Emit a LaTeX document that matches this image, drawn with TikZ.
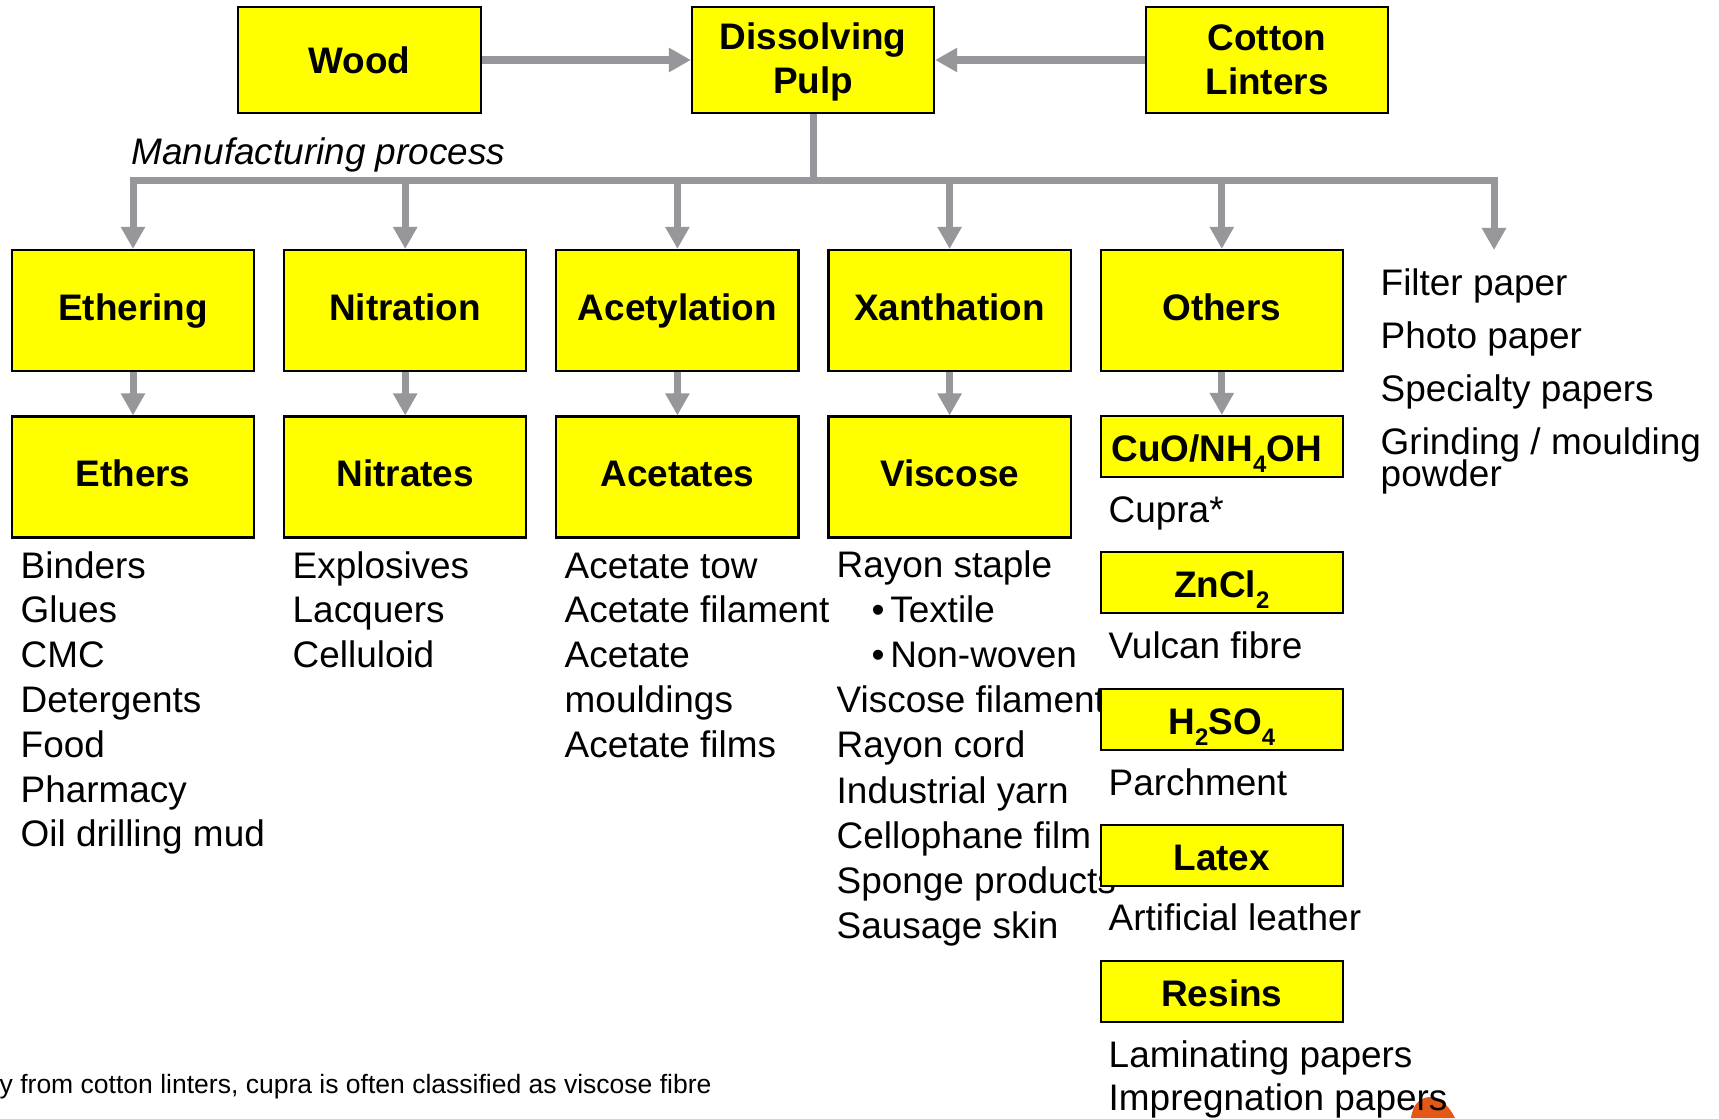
\documentclass[tikz,border=0pt]{standalone}
\usepackage{fontspec}
\setmainfont{Liberation Sans}
\usetikzlibrary{arrows.meta}
\definecolor{boxyellow}{RGB}{255,255,0}
\definecolor{arrgrey}{RGB}{150,150,155}
\definecolor{logoorange}{RGB}{226,88,22}
\newcommand\sbs[1]{\raisebox{-0.3em}{\fontsize{6.8}{6.8}\selectfont #1}}
\begin{document}
\begin{tikzpicture}[x=0.01cm,y=-0.01cm,
  box/.style={draw=black, line width=0.6pt, fill=boxyellow, minimum width=2.42cm, minimum height=1.21cm, inner sep=0pt, align=center, font=\bfseries\fontsize{10.5}{12.5}\selectfont},
  onel/.style={text height=0.8em, text depth=0.26em},
  sbox/.style={box, minimum height=0.61cm, text height=0.9em, text depth=0.06em},
  topbox/.style={box, minimum height=1.06cm},
  lst/.style={anchor=base west, inner sep=0pt, font=\fontsize{10.5}{12.6}\selectfont},
  arr/.style={draw=arrgrey, line width=0.07cm, -{Triangle[length=0.22cm,width=0.23cm]}},
  busline/.style={draw=arrgrey, line width=0.07cm}]
\fill[white] (0,0) rectangle (1719,1118);
\useasboundingbox (0,0) rectangle (1719,1118);

% fragment of a logo at the lower edge
\begin{scope}
\clip (0,0) rectangle (1719,1118);
\fill[logoorange] (1411,1118) .. controls (1413,1103) and (1421,1097) .. (1431,1097) .. controls (1442,1098) and (1450,1108) .. (1455,1118) -- cycle;
\end{scope}

% texts
\node[lst, font=\itshape\fontsize{10.5}{12.6}\selectfont] (manu) at (131,164) {Manufacturing process};

\foreach \t [count=\i from 0] in {Binders,Glues,CMC,Detergents,Food,Pharmacy,Oil drilling mud}
  \node[lst] (ethL\i) at (20,{578+44.8*\i}) {\t};
\foreach \t [count=\i from 0] in {Explosives,Lacquers,Celluloid}
  \node[lst] (nitL\i) at (292,{578+44.8*\i}) {\t};
\foreach \t [count=\i from 0] in {Acetate tow,Acetate filament,Acetate,mouldings,Acetate films}
  \node[lst] (aceL\i) at (564,{578+44.8*\i}) {\t};

\node[lst] (visL0) at (836,577) {Rayon staple};
\node[lst] (visL1) at (871,622.2) {•\hspace{1.6pt}Textile};
\node[lst] (visL2) at (871,667.4) {•\hspace{1.6pt}Non-woven};
\node[lst] (visL3) at (836,712.6) {Viscose filament};
\node[lst] (visL4) at (836,757.8) {Rayon cord};
\node[lst] (visL5) at (836,803) {Industrial yarn};
\node[lst] (visL6) at (836,848.2) {Cellophane film};
\node[lst] (visL7) at (836,893.4) {Sponge products};
\node[lst] (visL8) at (836,938.6) {Sausage skin};

\node[lst] (othL0) at (1108,522) {Cupra*};
\node[lst] (othL1) at (1108,658) {Vulcan fibre};
\node[lst] (othL2) at (1108,795) {Parchment};
\node[lst] (othL3) at (1108,930) {Artificial leather};
\node[lst] (othL4) at (1108,1067) {Laminating papers};
\node[lst] (othL5) at (1108,1110) {Impregnation papers};

\node[lst] (papL0) at (1380,295) {Filter paper};
\node[lst] (papL1) at (1380,348) {Photo paper};
\node[lst] (papL2) at (1380,401) {Specialty papers};
\node[lst] (papL3) at (1380,454) {Grinding / moulding};
\node[lst] (papL4) at (1380,486) {powder};

\node[anchor=base west, inner sep=0pt, font=\fontsize{7.54}{9}\selectfont] (foot) at (-1,1093) {y from cotton linters, cupra is often classified as viscose fibre};

% boxes
\node[topbox, text height=0.9em, text depth=0.14em] (wood) at (359.5,60) {Wood};
\node[topbox] (dp) at (813,60) {\rule{0pt}{0.85em}Dissolving\\Pulp};
\node[topbox] (cl) at (1267,60) {Cotton\\Linters};

\node[box, onel] (eth) at (133,310.5) {Ethering};
\node[box, onel] (nit) at (405.2,310.5) {Nitration};
\node[box, onel] (ace) at (677.4,310.5) {Acetylation};
\node[box, onel] (xan) at (949.6,310.5) {Xanthation};
\node[box, onel] (oth) at (1221.8,310.5) {Others};

\node[box, onel] (ethers) at (133,477) {Ethers};
\node[box, onel] (nitrates) at (405.2,477) {Nitrates};
\node[box, onel] (acetates) at (677.4,477) {Acetates};
\node[box, onel] (viscose) at (949.6,477) {Viscose};

\node[sbox] (cuo) at (1221.8,446.5) {CuO/NH\sbs{4}OH\hspace*{0.1cm}};
\node[sbox] (zncl) at (1221.8,582.5) {ZnCl\sbs{2}};
\node[sbox] (hso) at (1221.8,719.5) {H\sbs{2}SO\sbs{4}};
\node[sbox] (latex) at (1221.8,855.5) {Latex};
\node[sbox] (resins) at (1221.8,991.5) {Resins};

% connectors
\draw[arr] (wood) -- (dp);
\draw[arr] (cl) -- (dp);
\coordinate (bus) at (813,180.5);
\coordinate (busL) at (133,180.5);
\coordinate (busR) at (1494,180.5);
\coordinate (papArrow) at (1494,250);
\draw[busline] (dp.south) -- (bus);
\draw[busline, line cap=rect] (busL) -- (busR);
\foreach \n in {eth,nit,ace,xan,oth}
  \draw[arr] (\n.north |- bus) -- (\n.north);
\draw[arr] (busR) -- (papArrow);
\draw[arr] (eth) -- (ethers);
\draw[arr] (nit) -- (nitrates);
\draw[arr] (ace) -- (acetates);
\draw[arr] (xan) -- (viscose);
\draw[arr] (oth) -- (cuo);
\end{tikzpicture}
\end{document}
